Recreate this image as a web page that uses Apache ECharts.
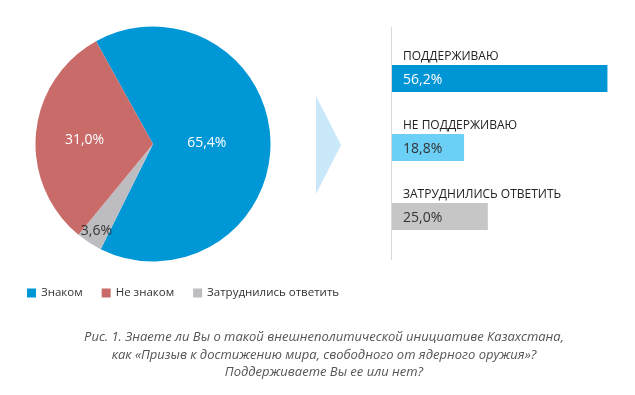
<!DOCTYPE html>
<html>
<head>
<meta charset="utf-8">
<script src="https://cdn.jsdelivr.net/npm/echarts@6/dist/echarts.min.js"></script>
<style>
html,body{margin:0;padding:0;background:#fff;}
#chart{width:635px;height:395px;}
</style>
</head>
<body>
<div id="chart"></div>
<script>
// Pie data
const pieNames = ['Знаком', 'Не знаком', 'Затруднились ответить'];
const pieValues = [65.4, 31.0, 3.6];
const pieColors = ['#0097d7', '#c86b69', '#bdbdc1'];

// Bar data
const barCategories = ['ПОДДЕРЖИВАЮ', 'НЕ ПОДДЕРЖИВАЮ', 'ЗАТРУДНИЛИСЬ ОТВЕТИТЬ'];
const barValues = [56.2, 18.8, 25.0];
const barColors = ['#0096d6', '#6ccff6', '#c6c6c6'];

const caption = 'Рис. 1. Знаете ли Вы о такой внешнеполитической инициативе Казахстана,\nкак «Призыв к достижению мира, свободного от ядерного оружия»?\nПоддерживаете Вы ее или нет?';

const FONT = '"Open Sans", "Noto Sans", sans-serif';
const fmt = v => v.toFixed(1).replace('.', ',') + '%';

// slice drawing order clockwise: Знаком, Затруднились, Не знаком
const pieOrder = [0, 2, 1];
const pieLabelOffsets = [[-8, 0], [-7, 2], [-23, 35]];
const pieLabelColors = ['#ffffff', '#ffffff', '#333333'];
const barLabelColors = ['#ffffff', '#333333', '#333333'];

const chart = echarts.init(document.getElementById('chart'), null, {renderer: 'canvas'});
chart.setOption({
  animation: false,
  textStyle: {fontFamily: FONT},
  title: {
    text: caption,
    left: 319,
    textAlign: 'center',
    top: 324,
    textStyle: {
      fontFamily: FONT, fontStyle: 'italic', fontWeight: 'normal',
      fontSize: 13, lineHeight: 17.5, color: '#555555'
    }
  },
  legend: {
    data: pieNames,
    left: 27, top: 287, padding: 0,
    icon: 'rect', itemWidth: 9, itemHeight: 9, itemGap: 19,
    textStyle: {fontFamily: FONT, fontSize: 11.5, color: '#333333'}
  },
  grid: {left: 392, top: 44, width: 230, height: 207},
  xAxis: {type: 'value', min: 0, max: 60, show: false},
  yAxis: {
    type: 'category', data: barCategories, inverse: true,
    axisLine: {show: false}, axisTick: {show: false}, splitLine: {show: false},
    axisLabel: {
      inside: true, margin: 11, align: 'left', verticalAlign: 'middle',
      formatter: v => '{n|' + v + '}\n{e|}\n{e|}',
      rich: {
        n: {fontFamily: FONT, fontSize: 12, color: '#222222', lineHeight: 22},
        e: {fontSize: 12, lineHeight: 22}
      }
    },
    z: 10
  },
  graphic: [
    {type: 'polygon', shape: {points: [[316, 96], [341, 145], [316, 194]]}, style: {fill: '#c9e9fa'}, silent: true},
    {type: 'line', shape: {x1: 391.5, y1: 27, x2: 391.5, y2: 260}, style: {stroke: '#d9d9d9', lineWidth: 1}, silent: true}
  ],
  series: [
    {
      type: 'pie',
      center: [153, 144],
      radius: 117.5,
      startAngle: 119,
      clockwise: true,
      avoidLabelOverlap: false,
      labelLine: {show: false},
      itemStyle: {borderWidth: 0},
      data: pieOrder.map(i => ({
        name: pieNames[i], value: pieValues[i],
        itemStyle: {color: pieColors[i]},
        label: {show: true, position: 'inside', offset: pieLabelOffsets[i], color: pieLabelColors[i]}
      })),
      label: {
        formatter: p => fmt(p.value),
        fontFamily: FONT, fontSize: 14
      }
    },
    {
      type: 'bar',
      barWidth: 27,
      data: barValues.map((v, i) => ({
        value: v,
        itemStyle: {color: barColors[i]},
        label: {color: barLabelColors[i]}
      })),
      label: {
        show: true, position: 'insideLeft', distance: 11, offset: [0, 1.5],
        formatter: p => fmt(p.value),
        fontFamily: FONT, fontSize: 14
      }
    }
  ]
});
</script>
</body>
</html>
